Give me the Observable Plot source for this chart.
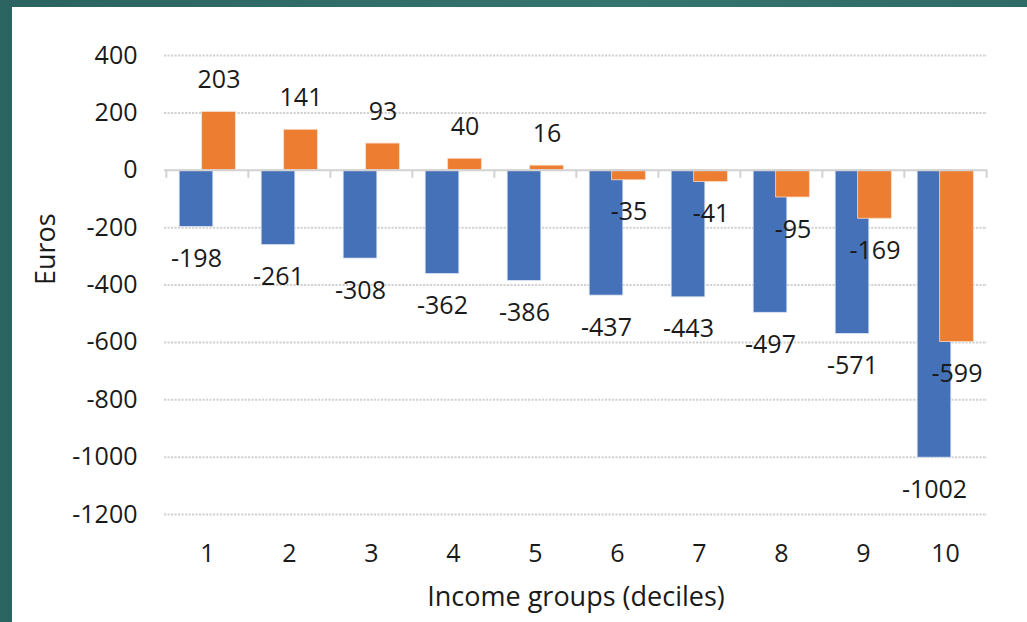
<!DOCTYPE html>
<html>
<head>
<meta charset="utf-8">
<script src="https://cdn.jsdelivr.net/npm/d3@7"></script>
<script src="https://cdn.jsdelivr.net/npm/@observablehq/plot@0.6"></script>
<style>
  html, body { margin: 0; padding: 0; }
  body { width: 1027px; height: 622px; overflow: hidden; background: linear-gradient(90deg, #2a6360, #367470 60%, #2f6b67); position: relative; }
  #panel { position: absolute; left: 12px; top: 7px; width: 1015px; height: 615px; background: #ffffff; }
  #panel svg { display: block; }
</style>
</head>
<body>
<div id="panel"></div>
<script>
const deciles = ["1", "2", "3", "4", "5", "6", "7", "8", "9", "10"];
const blueValues = [-198, -261, -308, -362, -386, -437, -443, -497, -571, -1002];
const orangeValues = [203, 141, 93, 40, 16, -35, -41, -95, -169, -599];
const yTicks = [400, 200, 0, -200, -400, -600, -800, -1000, -1200];
const gridTicks = [400, 200, -200, -400, -600, -800, -1000, -1200];

const W = 1015, H = 615, ML = 152, MR = 40, MT = 48, MB = 108;
const bw = (W - ML - MR) / deciles.length;
const barW = 34;
const inset = (bw - barW) / 2;
const font = "'Open Sans', sans-serif";

const blue = deciles.map((d, i) => ({decile: d, value: blueValues[i]}));
const orange = deciles.map((d, i) => ({decile: d, value: orangeValues[i]}));

const chart = Plot.plot({
  width: W, height: H,
  marginLeft: ML, marginRight: MR, marginTop: MT, marginBottom: MB,
  style: {fontFamily: font, background: "white", color: "#1a1a1a"},
  x: {type: "band", domain: deciles, padding: 0},
  y: {domain: [-1200, 400]},
  marks: [
    Plot.ruleY(gridTicks, {stroke: "#d2d2d2", strokeWidth: 2, strokeDasharray: "2.2,1.3"}),
    Plot.barY(blue, {x: "decile", y: "value", fill: "#4571B8", stroke: "#dfe6f3", strokeWidth: 0.8, insetLeft: inset, insetRight: inset, dx: -11}),
    Plot.barY(orange, {x: "decile", y: "value", fill: "#ED7D31", stroke: "#f8dcc8", strokeWidth: 0.8, insetLeft: inset, insetRight: inset, dx: 11.5}),
    Plot.ruleY([0], {stroke: "#d2d2d2", strokeWidth: 2}),
    Plot.ruleX(deciles, {x: d => d, y1: 0, y2: -28, dx: -bw / 2, stroke: "#d2d2d2", strokeWidth: 2}),
    Plot.ruleX([deciles[deciles.length - 1]], {x: d => d, y1: 0, y2: -28, dx: bw / 2, stroke: "#d2d2d2", strokeWidth: 2}),
    Plot.text(blue, {x: "decile", y: "value", text: d => String(d.value), dx: -11, dy: 32, fontSize: 25, fill: "#1a1a1a"}),
    Plot.text(orange, {filter: d => d.value >= 0, x: "decile", y: "value", text: d => String(d.value), dx: 11.5, dy: -32, fontSize: 25, fill: "#1a1a1a"}),
    Plot.text(orange, {filter: d => d.value < 0, x: "decile", y: "value", text: d => String(d.value), dx: 11.5, dy: 32, fontSize: 25, fill: "#1a1a1a"}),
    Plot.axisY({ticks: yTicks, tickSize: 0, tickPadding: 27, fontSize: 25, tickFormat: d => String(d), label: null}),
    Plot.axisX({anchor: "bottom", tickSize: 0, tickPadding: 30, fontSize: 25, label: null}),
    Plot.text(["Income groups (deciles)"], {frameAnchor: "bottom", dy: 91, fontSize: 27, fill: "#1a1a1a"}),
    Plot.text(["Euros"], {frameAnchor: "left", dx: -118, rotate: -90, fontSize: 27, fill: "#1a1a1a"})
  ]
});
document.getElementById("panel").appendChild(chart);
</script>
</body>
</html>
